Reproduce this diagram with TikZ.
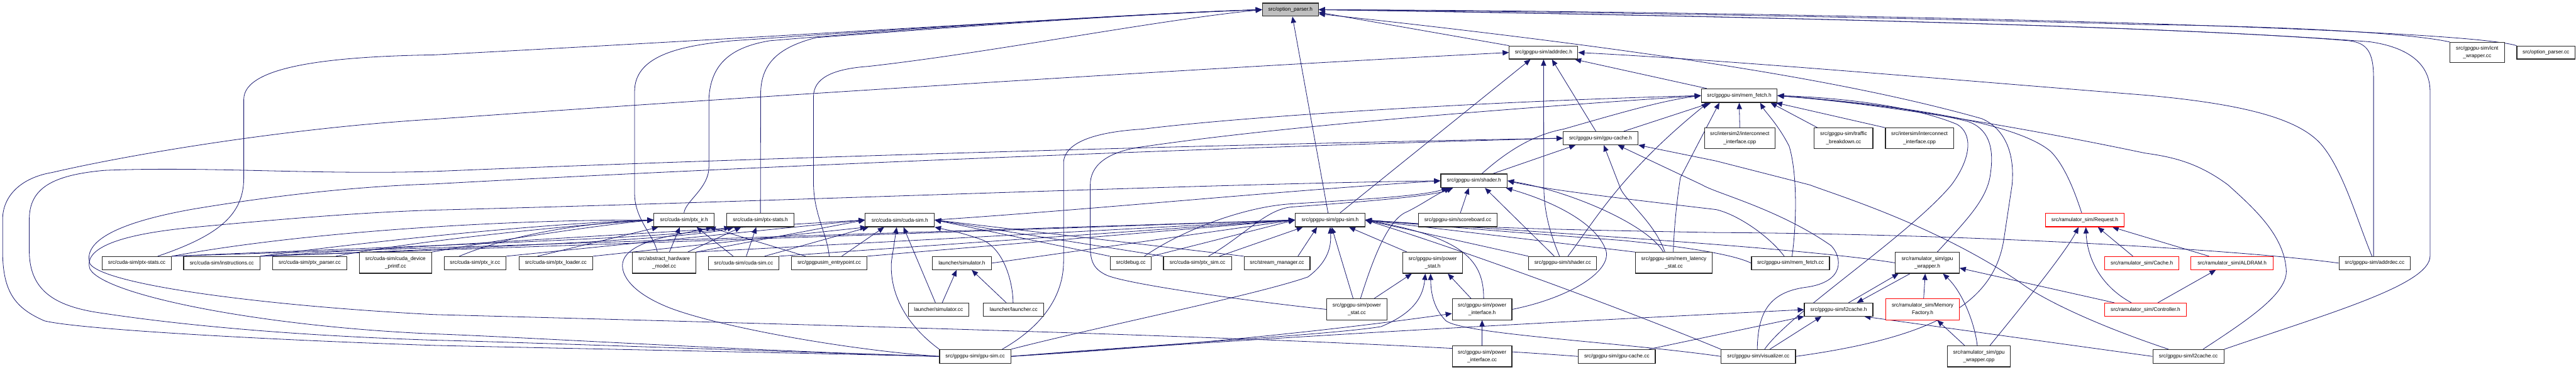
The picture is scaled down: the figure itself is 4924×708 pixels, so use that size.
\documentclass[tikz,border=0pt]{standalone}
\usepackage{fontspec}
\setmainfont{Liberation Sans}
\usetikzlibrary{arrows.meta,calc}
\pgfdeclarelayer{bg}
\pgfdeclarelayer{edges}
\pgfsetlayers{bg,edges,main}
\definecolor{navy}{HTML}{191970}
\definecolor{rootgray}{HTML}{BFBFBF}
\tikzset{
 box/.style={draw=black!85, line width=0.8pt, fill=white, inner sep=0pt, align=center,
   font=\fontsize{5.67}{8.5}\selectfont, text=black},
 redbox/.style={box, draw=red},
 rootbox/.style={box, fill=rootgray},
 lnk/.style={draw=navy, line width=0.55pt, -{Triangle[length=0.24cm,width=0.2cm]}}
}
\newcommand\bx[7][box]{\node[#1, minimum width={(#5-#3)*0.02cm}, minimum height={(#6-#4)*0.02cm}] (#2) at ({(#3+#5)/2},{(#4+#6)/2}) {#7};}
\begin{document}
\begin{tikzpicture}[x=0.02cm,y=-0.02cm]
\useasboundingbox (0,0) rectangle (4924,708);
\begin{pgfonlayer}{bg}
\fill[white] (0,0) rectangle (4924,708);
\end{pgfonlayer}
% nodes
\bx[rootbox]{op}{2413}{6}{2520}{31}{src/option\_parser.h}
\bx{icntcc}{4683}{81}{4787}{120}{src/gpgpu-sim/icnt\\\_wrapper.cc}
\bx{opcc}{4811}{88}{4922}{113}{src/option\_parser.cc}
\bx{adh}{2885}{88}{3016}{113}{src/gpgpu-sim/addrdec.h}
\bx{mfh}{3252}{170}{3397}{196}{src/gpgpu-sim/mem\_fetch.h}
\bx{istwo}{3258}{245}{3393}{284}{src/intersim2/interconnect\\\_interface.cpp}
\bx{tb}{3468}{245}{3580}{284}{src/gpgpu-sim/traffic\\\_breakdown.cc}
\bx{isone}{3604}{245}{3734}{284}{src/intersim/interconnect\\\_interface.cpp}
\bx{gch}{2988}{252}{3131}{277}{src/gpgpu-sim/gpu-cache.h}
\bx{shh}{2754}{333}{2881}{359}{src/gpgpu-sim/shader.h}
\bx{pirh}{1250}{408}{1365}{434}{src/cuda-sim/ptx\_ir.h}
\bx{pstath}{1389}{408}{1518}{434}{src/cuda-sim/ptx-stats.h}
\bx{csh}{1654}{408}{1786}{434}{src/cuda-sim/cuda-sim.h}
\bx{gsh}{2476}{408}{2609}{434}{src/gpgpu-sim/gpu-sim.h}
\bx{sbcc}{2711}{408}{2862}{434}{src/gpgpu-sim/scoreboard.cc}
\bx[redbox]{rqh}{3910}{408}{4060}{434}{src/ramulator\_sim/Request.h}
\bx{pstatcc}{195}{491}{328}{516}{src/cuda-sim/ptx-stats.cc}
\bx{instcc}{351}{491}{497}{516}{src/cuda-sim/instructions.cc}
\bx{pparsecc}{521}{491}{663}{516}{src/cuda-sim/ptx\_parser.cc}
\bx{printfcc}{687}{483}{825}{523}{src/cuda-sim/cuda\_device\\\_printf.cc}
\bx{pircc}{849}{491}{967}{516}{src/cuda-sim/ptx\_ir.cc}
\bx{ploadcc}{992}{491}{1133}{516}{src/cuda-sim/ptx\_loader.cc}
\bx{ahmcc}{1209}{483}{1330}{523}{src/abstract\_hardware\\\_model.cc}
\bx{cscc}{1354}{491}{1489}{516}{src/cuda-sim/cuda-sim.cc}
\bx{entrycc}{1513}{491}{1657}{516}{src/gpgpusim\_entrypoint.cc}
\bx{simh}{1782}{491}{1895}{516}{launcher/simulator.h}
\bx{dbgcc}{2122}{491}{2201}{516}{src/debug.cc}
\bx{psimcc}{2224}{491}{2354}{516}{src/cuda-sim/ptx\_sim.cc}
\bx{smcc}{2378}{491}{2504}{516}{src/stream\_manager.cc}
\bx{pwsh}{2681}{483}{2796}{523}{src/gpgpu-sim/power\\\_stat.h}
\bx{shcc}{2922}{491}{3052}{516}{src/gpgpu-sim/shader.cc}
\bx{mlscc}{3126}{483}{3273}{523}{src/gpgpu-sim/mem\_latency\\\_stat.cc}
\bx{mfcc}{3348}{491}{3497}{516}{src/gpgpu-sim/mem\_fetch.cc}
\bx{gwh}{3623}{483}{3745}{523}{src/ramulator\_sim/gpu\\\_wrapper.h}
\bx[redbox]{cah}{4023}{491}{4165}{516}{src/ramulator\_sim/Cache.h}
\bx[redbox]{alh}{4188}{491}{4345}{516}{src/ramulator\_sim/ALDRAM.h}
\bx{adcc}{4471}{491}{4607}{516}{src/gpgpu-sim/addrdec.cc}
\bx{simcc}{1736}{580}{1852}{605}{launcher/simulator.cc}
\bx{lnchcc}{1880}{580}{1995}{605}{launcher/launcher.cc}
\bx{pwscc}{2536}{572}{2651}{612}{src/gpgpu-sim/power\\\_stat.cc}
\bx{pwih}{2776}{572}{2890}{612}{src/gpgpu-sim/power\\\_interface.h}
\bx{ltwoh}{3449}{580}{3580}{605}{src/gpgpu-sim/l2cache.h}
\bx[redbox]{mfach}{3605}{572}{3745}{612}{src/ramulator\_sim/Memory\\Factory.h}
\bx[redbox]{cth}{4023}{580}{4179}{605}{src/ramulator\_sim/Controller.h}
\bx{gscc}{1796}{669}{1932}{695}{src/gpgpu-sim/gpu-sim.cc}
\bx{pwicc}{2776}{662}{2890}{702}{src/gpgpu-sim/power\\\_interface.cc}
\bx{gccc}{3017}{669}{3164}{695}{src/gpgpu-sim/gpu-cache.cc}
\bx{viscc}{3290}{669}{3432}{695}{src/gpgpu-sim/visualizer.cc}
\bx{gwcpp}{3722}{662}{3843}{702}{src/ramulator\_sim/gpu\\\_wrapper.cpp}
\bx{ltwocc}{4115}{669}{4251}{695}{src/gpgpu-sim/l2cache.cc}
\begin{pgfonlayer}{edges}
% ---- to option_parser.h
\draw[lnk] ($(pstatcc.north)+(40,0)$) .. controls (420,450) and (466,410) .. (466,340) -- (466,190) .. controls (466,125) and (640,108) .. (830,105) .. controls (1500,70) and (2100,30) .. (op.west);
\draw[lnk] ($(ahmcc.north)+(-13,0)$) .. controls (1250,450) and (1213,420) .. (1213,370) -- (1213,175) .. controls (1213,110) and (1290,88) .. (1400,78) .. controls (1800,50) and (2200,25) .. (op.west);
\draw[lnk] (pirh.north) .. controls (1310,385) and (1355,360) .. (1355,320) -- (1355,190) .. controls (1358,120) and (1400,90) .. (1471,78) .. controls (1800,50) and (2200,25) .. (op.west);
\draw[lnk] (pstath.north) -- (1454,180) .. controls (1454,120) and (1490,90) .. (1560,72) .. controls (1850,50) and (2200,25) .. (op.west);
\draw[lnk] (entrycc.north) .. controls (1582,450) and (1555,410) .. (1555,350) -- (1555,185) .. controls (1555,150) and (1590,132) .. (1660,127) .. controls (1900,100) and (2200,40) .. (op.west);
\draw[lnk] ($(gsh.north)+(-4,0)$) -- ($(op.south)+(4,0)$);
\draw[lnk] (adh.north west) -- ($(op.east)+(0,5)$);
\draw[lnk] (viscc.east) .. controls (3700,645) and (3810,580) .. (3830,460) -- (3846,354) .. controls (3852,290) and (3830,245) .. (3788,227) .. controls (3550,160) and (3200,100) .. ($(op.east)+(0,8)$);
\draw[lnk] (icntcc.north west) .. controls (4600,62) and (4350,50) .. (4100,47) .. controls (3600,33) and (3000,22) .. (op.east);
\draw[lnk] (opcc.north west) .. controls (4760,72) and (4500,58) .. (4100,45) .. controls (3600,30) and (3000,20) .. (op.east);
\draw[lnk] ($(adcc.north)+(-2,0)$) -- (4537,150) .. controls (4537,100) and (4525,82) .. (4490,78) .. controls (4300,62) and (3800,38) .. (op.east);
\draw[lnk] (ltwocc.north east) .. controls (4450,600) and (4645,545) .. (4645,490) -- (4645,175) .. controls (4645,120) and (4600,90) .. (4530,80) .. controls (4300,62) and (3800,38) .. (op.east);
% ---- to addrdec.h
\draw[lnk] (mfh) -- (adh);
\draw[lnk] ($(gch.north)+(-9,0)$) -- ($(adh.south)+(16,0)$);
\draw[lnk] ($(gsh.north)+(19,0)$) -- ($(adh.south)+(-25,0)$);
\draw[lnk] ($(shcc.north)+(-6,0)$) .. controls (2960,440) and (2951,400) .. (2951,354) -- (adh.south);
\draw[lnk] ($(adcc.north)+(-5,0)$) .. controls (4505,420) and (4480,330) .. (4440,280) .. controls (4400,230) and (4300,200) .. (4100,182) .. controls (3700,150) and (3300,115) .. (adh.east);
\draw[lnk] (gscc.west) .. controls (1500,675) and (1000,665) .. (830,661) .. controls (500,650) and (150,630) .. (85,614) .. controls (30,590) and (5,560) .. (5,480) -- (5,420) .. controls (5,375) and (40,340) .. (100,330) .. controls (250,295) and (550,245) .. (830,228) .. controls (1500,180) and (2400,125) .. (adh.west);
% ---- to mem_fetch.h
\draw[lnk] ($(gscc.north east)+(-17,0)$) .. controls (2000,620) and (2033,560) .. (2033,500) -- (2033,310) .. controls (2036,270) and (2100,252) .. (2185,247) .. controls (2400,220) and (2900,192) .. (mfh.west);
\draw[lnk] (pwscc.west) .. controls (2400,578) and (2160,545) .. (2116,527) .. controls (2090,515) and (2084,500) .. (2084,470) -- (2084,354) .. controls (2084,320) and (2110,290) .. (2190,280) .. controls (2500,235) and (3000,200) .. (mfh.west);
\draw[lnk] ($(gch.north)+(44,0)$) -- ($(mfh.south)+(-54,0)$);
\draw[lnk] ($(shh.north)+(15,0)$) .. controls (2880,290) and (2930,258) .. (2989,247) .. controls (3100,215) and (3180,192) .. (mfh.west);
\draw[lnk] ($(shcc.north)+(10,0)$) .. controls (3050,420) and (3100,330) .. ($(mfh.south)+(-60,0)$);
\draw[lnk] ($(mlscc.north)+(-1,0)$) .. controls (3200,430) and (3206,380) .. (3212,340) -- ($(mfh.south)+(-38,0)$);
\draw[lnk] (istwo.north) -- (mfh.south);
\draw[lnk] ($(mfcc.north)+(3,0)$) .. controls (3435,420) and (3435,330) .. (3420,280) .. controls (3400,240) and (3375,215) .. ($(mfh.south)+(40,0)$);
\draw[lnk] ($(tb.north)+(-50,0)$) -- ($(mfh.south)+(60,0)$);
\draw[lnk] (isone.north west) -- ($(mfh.south east)+(-3,0)$);
\draw[lnk] ($(gwh.north)+(19,0)$) .. controls (3760,420) and (3800,380) .. (3805,330) .. controls (3812,280) and (3800,245) .. (3760,232) .. controls (3650,205) and (3500,192) .. (mfh.east);
\draw[lnk] ($(rqh.north)+(-6,0)$) .. controls (3970,380) and (3950,320) .. (3920,290) .. controls (3850,230) and (3600,198) .. (mfh.east);
\draw[lnk] ($(ltwocc.north)+(28,0)$) .. controls (4300,610) and (4375,560) .. (4370,515) .. controls (4365,450) and (4310,400) .. (4259,354) .. controls (4200,310) and (4150,300) .. (4100,293) .. controls (3800,230) and (3550,195) .. (mfh.east);
\draw[lnk] ($(viscc.north)+(12,0)$) .. controls (3420,600) and (3650,450) .. (3730,354) .. controls (3770,300) and (3770,255) .. (3741,238) .. controls (3650,200) and (3500,186) .. (mfh.east);
% ---- to gpu-cache.h
\draw[lnk] ($(shh.north)+(36,0)$) -- ($(gch.south)+(-48,0)$);
\draw[lnk] ($(mlscc.north)+(-17,0)$) .. controls (3160,420) and (3100,380) .. (3095,354) -- ($(gch.south)+(6,0)$);
\draw[lnk] ($(viscc.north)+(-2,0)$) .. controls (3360,600) and (3380,560) .. (3450,550) .. controls (3530,540) and (3520,490) .. (3500,470) .. controls (3400,400) and (3280,370) .. (3254,354) -- ($(gch.south)+(33,0)$);
\draw[lnk] ($(ltwocc.north)+(-38,0)$) .. controls (4000,620) and (3900,570) .. (3862,541) .. controls (3700,430) and (3500,370) .. (3460,354) -- (3280,308) -- (gch.south east);
\draw[lnk] (gscc.west) .. controls (1400,670) and (1000,655) .. (830,651) .. controls (500,640) and (300,615) .. (200,600) .. controls (110,588) and (56,560) .. (56,480) -- (56,420) .. controls (56,360) and (100,335) .. (200,326) .. controls (400,318) and (600,335) .. (830,328) .. controls (1500,300) and (2400,275) .. (gch.west);
\draw[lnk] (gccc.west) .. controls (2600,650) and (1800,628) .. (830,602) .. controls (500,585) and (200,545) .. (172,505) .. controls (160,470) and (200,430) .. (370,400) .. controls (550,370) and (700,356) .. (830,352) .. controls (1500,315) and (2400,280) .. (gch.west);
% ---- to shader.h
\draw[lnk] (gscc.west) .. controls (1400,670) and (1000,645) .. (830,639) .. controls (500,625) and (200,565) .. (172,515) .. controls (160,480) and (210,450) .. (370,435) .. controls (550,418) and (700,406) .. (830,402) .. controls (1500,385) and (2300,352) .. (shh.west);
\draw[lnk] (csh.east) .. controls (2100,400) and (2450,365) .. (shh.west);
\draw[lnk] ($(dbgcc.north)+(26,0)$) .. controls (2260,440) and (2380,395) .. (2470,390) .. controls (2600,382) and (2720,375) .. ($(shh.south)+(-50,0)$);
\draw[lnk] ($(psimcc.north)+(21,0)$) .. controls (2380,450) and (2420,400) .. (2470,396) .. controls (2620,385) and (2740,375) .. ($(shh.south)+(-40,0)$);
\draw[lnk] ($(sbcc.north)+(5,0)$) -- ($(shh.south)+(-10,0)$);
\draw[lnk] ($(shcc.north)+(-16,0)$) -- ($(shh.south)+(21,0)$);
\draw[lnk] ($(pwscc.north)+(7,0)$) .. controls (2620,510) and (2650,420) .. (2690,405) .. controls (2720,390) and (2740,375) .. ($(shh.south)+(-45,0)$);
\draw[lnk] (pwih.east) .. controls (3000,570) and (3080,520) .. (3070,480) .. controls (3050,420) and (2950,380) .. ($(shh.south east)+(-3,0)$);
\draw[lnk] ($(mlscc.north)+(-20,0)$) .. controls (3150,430) and (3000,365) .. (shh.east);
\draw[lnk] ($(mfcc.north)+(-12,0)$) .. controls (3380,450) and (3320,410) .. (3280,401) .. controls (3100,380) and (2950,362) .. (shh.east);
% ---- to gpu-sim.h
\draw[lnk] ($(pwsh.north)+(-49,0)$) -- ($(gsh.south)+(36,0)$);
\draw[lnk] ($(pwscc.north)+(-7,0)$) -- ($(gsh.south)+(3,0)$);
\draw[lnk] ($(pwih.north)+(3,0)$) .. controls (2836,500) and (2800,455) .. (gsh.east);
\draw[lnk] (shcc.north west) -- (gsh.east);
\draw[lnk] (mlscc.north west) -- (gsh.east);
\draw[lnk] (viscc.north west) .. controls (3100,590) and (2800,480) .. (gsh.east);
\draw[lnk] (gscc.north east) .. controls (2100,625) and (2400,565) .. (2500,530) .. controls (2540,500) and (2545,470) .. (gsh.south);
\draw[lnk] ($(smcc.north)+(40,0)$) -- ($(gsh.south)+(-25,0)$);
\draw[lnk] ($(psimcc.north)+(42,0)$) -- ($(gsh.south west)+(15,0)$);
\draw[lnk] (dbgcc.north east) -- (gsh.west);
\draw[lnk] (simh.east) -- (gsh.west);
\draw[lnk] (cscc.north east) -- (gsh.west);
\draw[lnk] (entrycc.north east) -- (gsh.west);
\draw[lnk] (ahmcc.north east) -- (gsh.west);
\draw[lnk] (instcc.north east) -- (gsh.west);
\draw[lnk] (pstatcc.north east) -- (gsh.west);
\draw[lnk] (adcc.west) .. controls (4300,480) and (3800,448) .. (3280,445) .. controls (3000,440) and (2800,436) .. (gsh.east);
\draw[lnk] (gwh.west) .. controls (3450,475) and (3000,448) .. (gsh.east);
\draw[lnk] (mfcc.west) .. controls (3310,485) and (3200,470) .. (3100,460) .. controls (2900,445) .. (gsh.east);
% ---- to cuda-sim.h
\draw[lnk] ($(cscc.north)+(40,0)$) -- ($(csh.south west)+(7,0)$);
\draw[lnk] ($(entrycc.north)+(24,0)$) -- ($(csh.south)+(-30,0)$);
\draw[lnk] (gscc.north west) .. controls (1730,620) and (1700,560) .. (1704,500) -- ($(csh.south)+(-6,0)$);
\draw[lnk] ($(simcc.north)+(-6,0)$) -- ($(csh.south)+(7,0)$);
\draw[lnk] ($(lnchcc.north)+(-1,0)$) .. controls (1936,540) and (1920,480) .. (1880,460) .. controls (1840,445) and (1810,440) .. (csh.south east);
\draw[lnk] (ploadcc.north east) -- ($(csh.south west)+(3,0)$);
\draw[lnk] (ahmcc.north east) -- (csh.west);
\draw[lnk] (pircc.north east) -- (csh.west);
\draw[lnk] (instcc.north east) -- (csh.west);
\draw[lnk] (dbgcc.north west) -- (csh.east);
\draw[lnk] (psimcc.north west) -- (csh.east);
\draw[lnk] (smcc.north west) -- (csh.east);
% ---- to ptx_ir.h
\draw[lnk] (pstatcc.north east) .. controls (600,440) and (1000,420) .. (pirh.west);
\draw[lnk] (instcc.north east) .. controls (800,450) and (1100,425) .. (pirh.west);
\draw[lnk] ($(pparsecc.north)+(50,0)$) .. controls (800,460) and (1100,430) .. (pirh.west);
\draw[lnk] (printfcc.north east) .. controls (950,460) and (1150,430) .. (pirh.west);
\draw[lnk] ($(pircc.north)+(-30,0)$) .. controls (1000,440) and (1150,425) .. (pirh.west);
\draw[lnk] ($(ploadcc.north)+(-35,0)$) -- ($(pirh.south west)+(9,0)$);
\draw[lnk] ($(ahmcc.north)+(10,0)$) -- ($(pirh.south)+(-8,0)$);
\draw[lnk] ($(cscc.north)+(-20,0)$) -- ($(pirh.south)+(24,0)$);
\draw[lnk] ($(entrycc.north)+(-45,0)$) -- ($(pirh.south east)+(-10,0)$);
\draw[lnk] (gscc.west) .. controls (1600,668) and (1350,620) .. (1270,585) .. controls (1200,555) and (1185,520) .. (1191,500) .. controls (1198,475) and (1240,458) .. (1300,448) -- ($(pirh.south east)+(-4,0)$);
% ---- to ptx-stats.h
\draw[lnk] ($(ahmcc.north)+(45,0)$) -- ($(pstath.south)+(-37,0)$);
\draw[lnk] ($(cscc.north)+(5,0)$) -- ($(pstath.south)+(-8,0)$);
\draw[lnk] (pstatcc.north east) .. controls (800,470) and (1300,455) .. ($(pstath.south west)+(8,0)$);
\draw[lnk] (instcc.north east) .. controls (900,475) and (1320,458) .. ($(pstath.south west)+(14,0)$);
% ---- to simulator.h
\draw[lnk] ($(simcc.north)+(7,0)$) -- ($(simh.south)+(-10,0)$);
\draw[lnk] ($(lnchcc.north)+(-14,0)$) -- ($(simh.south)+(19,0)$);
% ---- to power_stat.h
\draw[lnk] ($(pwscc.north)+(33,0)$) -- ($(pwsh.south)+(-40,0)$);
\draw[lnk] ($(pwih.north)+(-21,0)$) -- ($(pwsh.south)+(29,0)$);
\draw[lnk] (gscc.east) .. controls (2200,660) and (2550,640) .. (2640,625) .. controls (2700,600) and (2720,570) .. ($(pwsh.south)+(-14,0)$);
\draw[lnk] (viscc.west) .. controls (3100,655) and (2800,640) .. (2764,614) .. controls (2740,590) and (2735,560) .. ($(pwsh.south)+(-4,0)$);
% ---- to power_interface.h
\draw[lnk] (pwicc.north) -- (pwih.south);
\draw[lnk] (gscc.east) .. controls (2300,660) and (2600,625) .. ($(pwih.west)+(0,8)$);
% ---- to l2cache.h
\draw[lnk] ($(gwh.south)+(-33,0)$) -- ($(ltwoh.north)+(35,0)$);
\draw[lnk] ($(viscc.north)+(22,0)$) -- ($(ltwoh.south)+(-33,0)$);
\draw[lnk] ($(gccc.north east)+(-13,0)$) -- (ltwoh.south west);
\draw[lnk] (gscc.east) .. controls (2500,640) and (3000,615) .. (ltwoh.west);
\draw[lnk] (ltwocc.west) -- ($(ltwoh.south east)+(-17,0)$);
% ---- to gpu_wrapper.h
\draw[lnk] ($(ltwoh.north)+(19,0)$) -- ($(gwh.south)+(-55,0)$);
\draw[lnk] ($(mfach.north)+(2,0)$) -- ($(gwh.south)+(-4,0)$);
\draw[lnk] ($(gwcpp.north)+(-3,0)$) .. controls (3775,620) and (3752,560) .. ($(gwh.south)+(30,0)$);
\draw[lnk] ($(cth.north west)+(19,0)$) -- ($(gwh.east)+(0,10)$);
% ---- to MemoryFactory.h
\draw[lnk] ($(gwcpp.north)+(-27,0)$) -- ($(mfach.south)+(28,0)$);
% ---- to Request.h
\draw[lnk] ($(gwcpp.north)+(21,0)$) .. controls (3870,580) and (3950,480) .. ($(rqh.south)+(-12,0)$);
\draw[lnk] ($(cah.north)+(-17,0)$) -- ($(rqh.south)+(25,0)$);
\draw[lnk] ($(cth.north)+(-27,0)$) .. controls (4020,550) and (3990,500) .. ($(rqh.south)+(2,0)$);
\draw[lnk] ($(alh.north)+(-44,0)$) -- ($(rqh.south east)+(-23,0)$);
% ---- to ALDRAM.h
\draw[lnk] ($(cth.north east)+(-55,0)$) -- ($(alh.south)+(-31,0)$);
\end{pgfonlayer}
\end{tikzpicture}
\end{document}
